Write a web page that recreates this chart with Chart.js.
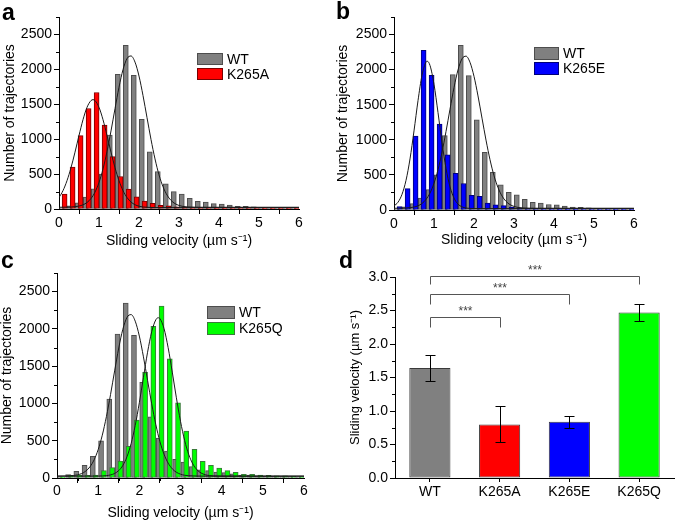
<!DOCTYPE html>
<html><head><meta charset="utf-8">
<script src="https://cdn.jsdelivr.net/npm/chart.js@4.4.1/dist/chart.umd.min.js"></script>
<style>
html,body{margin:0;padding:0;background:#fff;}
#wrap{position:relative;width:675px;height:522px;overflow:hidden;font-family:"Liberation Sans",Arial,sans-serif;}
canvas{position:absolute;}
.lbl{position:absolute;font-weight:bold;font-size:23px;line-height:1;color:#000;font-family:"Liberation Sans",Arial,sans-serif;}
</style></head><body>
<div id="wrap">
<canvas id="ca" width="330" height="262" style="left:0;top:0"></canvas>
<canvas id="cb" width="345" height="262" style="left:330px;top:0"></canvas>
<canvas id="cc" width="330" height="260" style="left:0;top:262px"></canvas>
<canvas id="cd" width="345" height="260" style="left:330px;top:262px"></canvas>
<div class="lbl" style="left:2px;top:1px">a</div>
<div class="lbl" style="left:336px;top:0px">b</div>
<div class="lbl" style="left:1px;top:249px">c</div>
<div class="lbl" style="left:339px;top:249px">d</div>
</div>
<script>
// ---------- data ----------
const binCenters = [0.1,0.3,0.5,0.7,0.9,1.1,1.3,1.5,1.7,1.9,2.1,2.3,2.5,2.7,2.9,3.1,3.3,3.5,3.7,3.9,4.1,4.3,4.5,4.7,4.9,5.1,5.3,5.5,5.7,5.9];
const wtCounts    = [15,45,90,170,290,500,1060,1930,2345,1915,1285,820,535,360,250,215,152,110,98,78,72,55,40,38,30,25,22,20,18,15];
const k265aCounts = [215,600,1050,1440,1668,1202,750,465,285,175,112,82,52,45,30,25,20,15,15,10,10,8,8,6,6,5,5,5,5,5];
const k265eCounts = [48,305,1052,2276,1919,1224,785,524,378,208,195,100,74,62,43,30,25,25,20,15,12,10,10,8,8,6,6,5,5,5];
const k265qCounts = [10,35,40,35,40,100,140,228,425,778,1418,2036,2305,1600,1008,630,383,225,170,134,100,76,50,48,40,35,30,28,22,18];

// fitted curves
const wtFitX = [0,0.2,0.4,0.5,0.6,0.7,0.8,0.9,1.0,1.1,1.2,1.3,1.4,1.5,1.6,1.7,1.8,1.9,2.0,2.1,2.2,2.3,2.4,2.5,2.6,2.7,2.8,2.9,3.0,3.1,3.2,3.4,3.6,4.0,5.0,6.0];
const wtFitY = [25,26,33,42,60,93,150,242,380,574,823,1118,1437,1744,1996,2154,2192,2104,1904,1625,1309,996,717,489,319,200,123,77,51,37,30,26,25,25,25,25];
const k265aFitX = [0,0.1,0.2,0.3,0.4,0.5,0.6,0.7,0.8,0.85,0.9,1.0,1.1,1.2,1.3,1.4,1.5,1.6,1.7,1.8,1.9,2.0,2.1,2.2,2.4,3.0,4.0,5.0,6.0];
const k265aFitY = [164,263,406,592,814,1053,1279,1456,1553,1566,1553,1456,1279,1053,814,592,406,263,164,100,61,40,29,24,20,20,20,20,20];
const k265eFitX = [0,0.1,0.2,0.3,0.4,0.5,0.6,0.7,0.8,0.83,0.9,1.0,1.1,1.2,1.3,1.4,1.5,1.6,1.7,1.8,1.9,2.0,2.5,3.0,4.0,5.0,6.0];
const k265eFitY = [57,111,223,422,728,1127,1558,1921,2109,2120,2060,1792,1388,959,593,331,170,84,45,28,23,20,20,20,20,20,20];
const k265qFitX = [0,1.0,1.2,1.3,1.4,1.5,1.6,1.7,1.8,1.9,2.0,2.1,2.2,2.3,2.4,2.46,2.5,2.6,2.7,2.8,2.9,3.0,3.1,3.2,3.3,3.4,3.5,3.6,3.7,3.8,4.0,5.0,6.0];
const k265qFitY = [25,26,32,41,61,100,169,285,461,704,1010,1351,1687,1961,2122,2150,2138,2004,1748,1421,1076,761,504,315,188,110,67,44,33,28,25,25,25];

// panel d
const groups = ['WT','K265A','K265E','K265Q'];
const meanVel = [1.64, 0.80, 0.84, 2.47];
const errVel  = [0.19, 0.27, 0.09, 0.12];
const sigPairs = [[0,1],[0,2],[0,3]];
const sigLevel = [2.40, 2.74, 3.01];
const sigLegLow = [2.26, 2.60, 2.89];
const sigText = ['***','***','***'];

// ---------- styling ----------
const FONT = '"Liberation Sans", Arial, Helvetica, sans-serif';
Chart.defaults.font.family = FONT;
Chart.defaults.color = '#000';
Chart.defaults.animation = false;
const AXIS_TITLE = 'Sliding velocity (\u00b5m s\u207b\u00b9)';
const WT_SHIFT = -0.03, MUT_SHIFT = 0.04;
const isMult = (v, m) => Math.abs(v / m - Math.round(v / m)) < 1e-6;

const minorTicks = {
  id: 'minorTicks',
  afterDraw(chart, args, opts) {
    if (!opts || !opts.list) return;
    const ctx = chart.ctx;
    ctx.save();
    ctx.strokeStyle = '#000';
    ctx.lineWidth = 1;
    for (const m of opts.list) {
      const s = chart.scales[m.id];
      for (let k = 0; ; k++) {
        const v = s.min + k * m.step;
        if (v > s.max + 1e-9) break;
        if (isMult(v, m.major)) continue;
        const p = Math.round(s.getPixelForValue(v)) + 0.5;
        ctx.beginPath();
        if (s.isHorizontal()) {
          const y = chart.chartArea.bottom;
          ctx.moveTo(p, y); ctx.lineTo(p, y + m.len);
        } else {
          const x = chart.chartArea.left;
          ctx.moveTo(x, p); ctx.lineTo(x - m.len, p);
        }
        ctx.stroke();
      }
    }
    ctx.restore();
  }
};

const boxLegend = {
  id: 'boxLegend',
  afterDraw(chart, args, opts) {
    if (!opts || !opts.items) return;
    const ctx = chart.ctx;
    ctx.save();
    ctx.font = opts.font;
    opts.items.forEach((di, i) => {
      const ds = chart.data.datasets[di];
      const y = opts.y + i * opts.dy;
      ctx.fillStyle = ds.backgroundColor;
      ctx.fillRect(opts.x, y, opts.w, opts.h);
      ctx.strokeStyle = ds.borderColor;
      ctx.lineWidth = 1;
      ctx.strokeRect(opts.x + 0.5, y + 0.5, opts.w - 1, opts.h - 1);
      ctx.fillStyle = '#000';
      ctx.textBaseline = 'middle';
      ctx.textAlign = 'left';
      ctx.fillText(ds.label, opts.x + opts.w + opts.gap, y + opts.h / 2 + 1);
    });
    ctx.restore();
  }
};

function histChart(id, mutLabel, mutCounts, mutColor, mutBorder, fitMX, fitMY, L) {
  const wtBars = binCenters.map((c, i) => ({x: c + WT_SHIFT, y: wtCounts[i]}));
  const mutBars = binCenters.map((c, i) => ({x: c + MUT_SHIFT, y: mutCounts[i]}));
  const wtFit = wtFitX.map((x, i) => ({x, y: wtFitY[i]}));
  const mutFit = fitMX.map((x, i) => ({x, y: fitMY[i]}));
  const lineDs = (data) => ({type: 'line', data, borderColor: '#1a1a1a', borderWidth: 1, pointRadius: 0,
    cubicInterpolationMode: 'monotone', fill: false, order: 0});
  return new Chart(document.getElementById(id), {
    type: 'bar',
    data: {
      datasets: [
        lineDs(wtFit),
        lineDs(mutFit),
        {label: mutLabel, data: mutBars, backgroundColor: mutColor, borderColor: mutBorder, borderWidth: 1,
          borderSkipped: false, barThickness: 5, grouped: false, order: 1},
        {label: 'WT', data: wtBars, backgroundColor: '#808080', borderColor: '#4d4d4d', borderWidth: 1,
          borderSkipped: false, barThickness: 5, grouped: false, order: 2}
      ]
    },
    options: {
      responsive: false,
      devicePixelRatio: 1,
      events: [],
      layout: {padding: {left: 0, right: L.R, top: L.T, bottom: 0}},
      plugins: {
        legend: {display: false},
        tooltip: {enabled: false},
        minorTicks: {list: [{id: 'x', step: 0.5, major: 1, len: 3}, {id: 'y', step: 250, major: 500, len: 3}]},
        boxLegend: {items: [3, 2], x: L.lx, y: L.ly, w: L.lw, h: L.lh, dy: L.ldy, gap: 4, font: '14px ' + FONT}
      },
      scales: {
        x: {
          type: 'linear', min: 0, max: 6, offset: false,
          ticks: {stepSize: 1, font: {size: 14}, padding: L.xpad, maxRotation: 0, autoSkip: false},
          grid: {drawOnChartArea: false, tickLength: 5, tickColor: '#000'},
          border: {color: '#000', width: 1},
          title: {display: true, text: AXIS_TITLE, font: {size: 14, lineHeight: 1}, padding: {top: 0, bottom: L.xtb}},
          afterFit: (s) => { s.height = L.H; }
        },
        y: {
          type: 'linear', min: 0, max: 2750,
          ticks: {stepSize: 250, font: {size: 14}, padding: 2, autoSkip: false,
            callback: (v) => isMult(v, 500) ? String(v) : ''},
          grid: {drawOnChartArea: false, tickLength: 5,
            tickColor: (c) => (c.tick && isMult(c.tick.value, 500)) ? '#000' : 'rgba(0,0,0,0)'},
          border: {color: '#000', width: 1},
          title: {display: true, text: 'Number of trajectories', font: {size: 14, lineHeight: 1}, padding: {top: L.ytp, bottom: 0}},
          afterFit: (s) => { s.width = L.W; }
        }
      }
    },
    plugins: [minorTicks, boxLegend]
  });
}

histChart('ca', 'K265A', k265aCounts, '#ff0000', '#7a0000', k265aFitX, k265aFitY,
  {R: 31, T: 17, H: 53, W: 59, xpad: 1, xtb: 14, ytp: 3, lx: 197, ly: 53, lw: 26, lh: 12, ldy: 15});
histChart('cb', 'K265E', k265eCounts, '#0000ff', '#00007a', k265eFitX, k265eFitY,
  {R: 41, T: 17, H: 52, W: 64, xpad: 1, xtb: 15, ytp: 6, lx: 204, ly: 47, lw: 25, lh: 13, ldy: 15});
histChart('cc', 'K265Q', k265qCounts, '#00ff00', '#3a7a3a', k265qFitX, k265qFitY,
  {R: 26, T: 11, H: 44, W: 57, xpad: 0, xtb: 2, ytp: 0, lx: 207, ly: 44, lw: 28, lh: 13, ldy: 16});

// ---------- panel d ----------
const errBars = {
  id: 'errBars',
  afterDatasetsDraw(chart) {
    const ctx = chart.ctx, ys = chart.scales.y;
    const meta = chart.getDatasetMeta(0);
    ctx.save();
    ctx.strokeStyle = '#000';
    ctx.lineWidth = 1;
    meta.data.forEach((bar, i) => {
      const x = Math.round(bar.x) + 0.5;
      const v = chart.data.datasets[0].data[i];
      const t = Math.round(ys.getPixelForValue(v + errVel[i])) + 0.5;
      const b = Math.round(ys.getPixelForValue(v - errVel[i])) + 0.5;
      ctx.beginPath();
      ctx.moveTo(x, t); ctx.lineTo(x, b);
      ctx.moveTo(x - 5, t); ctx.lineTo(x + 5, t);
      ctx.moveTo(x - 5, b); ctx.lineTo(x + 5, b);
      ctx.stroke();
    });
    ctx.restore();
  }
};
const sigBrackets = {
  id: 'sigBrackets',
  afterDraw(chart) {
    const ctx = chart.ctx, xs = chart.scales.x, ys = chart.scales.y;
    ctx.save();
    ctx.strokeStyle = '#555';
    ctx.fillStyle = '#444';
    ctx.lineWidth = 1;
    ctx.font = '12px ' + FONT;
    ctx.textAlign = 'center';
    ctx.textBaseline = 'middle';
    sigPairs.forEach((pr, i) => {
      const x1 = Math.round(xs.getPixelForValue(pr[0])) + 0.5;
      const x2 = Math.round(xs.getPixelForValue(pr[1])) + 0.5;
      const y = Math.round(ys.getPixelForValue(sigLevel[i])) + 0.5;
      const yl = Math.round(ys.getPixelForValue(sigLegLow[i])) + 0.5;
      ctx.beginPath();
      ctx.moveTo(x1, yl); ctx.lineTo(x1, y); ctx.lineTo(x2, y); ctx.lineTo(x2, yl);
      ctx.stroke();
      ctx.fillText(sigText[i], (x1 + x2) / 2, y - 6);
    });
    ctx.restore();
  }
};

new Chart(document.getElementById('cd'), {
  type: 'bar',
  data: {
    labels: groups,
    datasets: [{
      data: meanVel,
      backgroundColor: ['#808080', '#ff0000', '#0000ff', '#00ff00'],
      borderColor: '#3a3a3a',
      borderWidth: 1,
      borderSkipped: false,
      barPercentage: 0.59,
      categoryPercentage: 1
    }]
  },
  options: {
    responsive: false,
    devicePixelRatio: 1,
    events: [],
    layout: {padding: {left: 0, right: 1, top: 15, bottom: 0}},
    plugins: {
      legend: {display: false},
      tooltip: {enabled: false},
      minorTicks: {list: [{id: 'y', step: 0.25, major: 0.5, len: 3}]}
    },
    scales: {
      x: {
        type: 'category',
        ticks: {font: {size: 14}, padding: 2},
        grid: {drawOnChartArea: false, offset: false, tickLength: 4, tickColor: '#000'},
        border: {color: '#000', width: 1},
        afterFit: (s) => { s.height = 44; }
      },
      y: {
        min: 0, max: 3,
        ticks: {stepSize: 0.5, font: {size: 14}, padding: 2, callback: (v) => Number(v).toFixed(1)},
        grid: {drawOnChartArea: false, tickLength: 5, tickColor: '#000'},
        border: {color: '#000', width: 1},
        title: {display: true, text: AXIS_TITLE, font: {size: 13, lineHeight: 1}, padding: {top: 19, bottom: 0}},
        afterFit: (s) => { s.width = 65; }
      }
    }
  },
  plugins: [minorTicks, errBars, sigBrackets]
});
</script>
</body></html>
